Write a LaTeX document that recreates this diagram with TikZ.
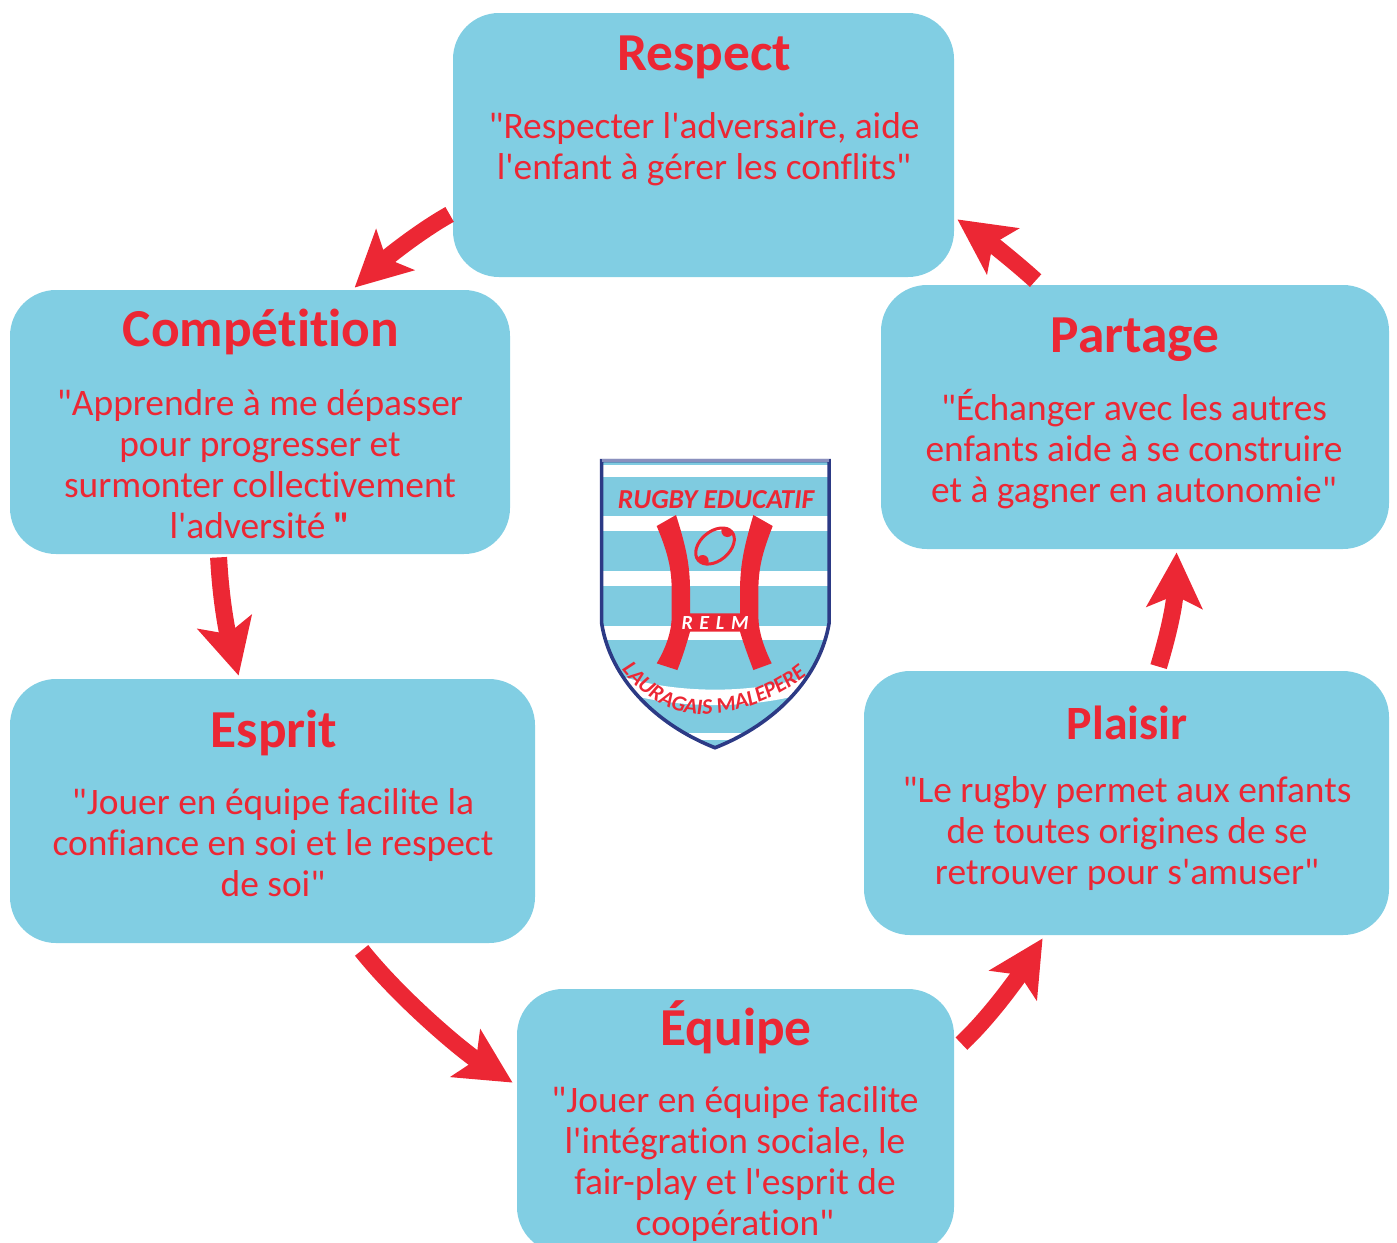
\documentclass[tikz,border=0pt]{standalone}
\usepackage{fontspec}
\usepackage{tikz}
\usetikzlibrary{calc,arrows.meta,decorations.text}
\newfontfamily\boxfont{Carlito}[Ligatures=NoCommon]
\definecolor{boxblue}{HTML}{81CEE3}
\definecolor{textred}{HTML}{EC2734}
\definecolor{shieldblue}{HTML}{7FCBE0}
\definecolor{shieldnavy}{HTML}{2C3A85}
\definecolor{shieldtop}{HTML}{8A90BE}
\tikzset{
  box/.style={fill=boxblue,rounded corners=23pt,inner sep=0pt,minimum height=132pt},
  title/.style={text=textred,font=\boxfont\fontsize{26.7}{31}\selectfont\bfseries,inner sep=0pt},
  body/.style={text=textred,font=\boxfont\fontsize{18.7}{20.5}\selectfont,align=center,inner sep=0pt},
  cyclearrow/.style={draw=textred,line width=8.5pt,-{Stealth[length=27.5pt,width=27.5pt,inset=6pt]}},
}
\begin{document}
\begin{tikzpicture}[x=0.5pt,y=-0.5pt]
  \clip (0,0) rectangle (1397,1242);
  % boxes
  \node[box,minimum width=250.5pt] (respect) at (703.5,145) {};
  \node[box,minimum width=250pt] (competition) at (260,422) {};
  \node[box,minimum width=262.5pt] (esprit) at (272.5,811) {};
  \node[box,minimum width=218.5pt] (equipe) at (735.5,1121) {};
  \node[box,minimum width=262.5pt] (plaisir) at (1126.5,803) {};
  \node[box,minimum width=254pt] (partage) at (1135,417) {};
  % titles
  \node[title] (t1) at (704,57) {Respect};
  \node[title] (t2) at (261,332) {Compétition};
  \node[title] (t3) at (274,733) {Esprit};
  \node[title] (t4) at (736,1027) {Équipe};
  \node[title,font=\boxfont\fontsize{23.9}{28}\selectfont\bfseries] (t5) at (1127,723) {Plaisir};
  \node[title] (t6) at (1135,340) {Partage};
  % texts
  \node[body] (l1) at (704,149) {"Respecter l'adversaire, aide\\l'enfant à gérer les conflits"};
  \node[body] (l2) at (260,464) {"Apprendre à me dépasser\\pour progresser et\\surmonter collectivement\\l'adversité {\bfseries "}};
  \node[body] (l3) at (273,843) {"Jouer en équipe facilite la\\confiance en soi et le respect\\de soi"};
  \node[body] (l4) at (735,1164) {"Jouer en équipe facilite\\l'intégration sociale, le\\fair-play et l'esprit de\\coopération"};
  \node[body] (l5) at (1127,834) {"Le rugby permet aux enfants\\de toutes origines de se\\retrouver pour s'amuser"};
  \node[body] (l6) at (1134,449) {"Échanger avec les autres\\enfants aide à se construire\\et à gagner en autonomie"};
  % arrows
  \coordinate (a1) at ($(respect.south west)+(-3,-63)$);
  \coordinate (a2) at ($(competition.north west)+(345,-2)$);
  \coordinate (b1) at ($(competition.south west)+(209,3)$);
  \coordinate (b2) at ($(esprit.north west)+(229,-3)$);
  \coordinate (c1) at ($(esprit.south west)+(352,7)$);
  \coordinate (c2) at ($(equipe.north west)+(-4,94)$);
  \coordinate (d1) at ($(equipe.north east)+(7,55)$);
  \coordinate (d2) at ($(plaisir.south west)+(179,3)$);
  \coordinate (e1) at ($(plaisir.north west)+(295,-4)$);
  \coordinate (e2) at ($(partage.south west)+(296,3)$);
  \coordinate (f1) at ($(partage.north west)+(155,-4)$);
  \coordinate (f2) at ($(respect.south east)+(3,-58)$);
  \draw[cyclearrow] (a1) .. controls +(-32,18) and +(30,-28) .. (a2);
  \draw[cyclearrow] (b1) .. controls +(2,40) and +(-12,-46) .. (b2);
  \draw[cyclearrow] (c1) .. controls +(40,50) and +(-48,-30) .. (c2);
  \draw[cyclearrow] (d1) .. controls +(30,-28) and +(-22,35) .. (d2);
  \draw[cyclearrow] (e1) .. controls +(12,-40) and +(-2,50) .. (e2);
  \draw[cyclearrow] (f1) .. controls +(-22,-20) and +(30,21) .. (f2);
  % logo
  \begin{scope}[shift={(590,450)},x=0.1667pt,y=-0.1667pt]
    \path[save path=\shieldpath] (35,32) -- (717,32) -- (717,520)
      .. controls (690,680) and (560,820) .. (375,893)
      .. controls (190,820) and (60,680) .. (35,520) -- cycle;
    \begin{scope}
      \clip[use path=\shieldpath];
      \fill[shieldblue] (0,0) rectangle (750,930);
      \fill[white] (0,45) rectangle (750,80);
      \fill[white] (0,198) rectangle (750,243);
      \fill[white] (0,362) rectangle (750,408);
      \fill[white] (0,528) rectangle (750,570);
      \fill[white] (0,690) .. controls (200,790) and (550,790) .. (750,690) -- (750,640) .. controls (550,745) and (200,745) .. (0,640) -- cycle;
      \fill[white] (0,850) rectangle (750,870);
    \end{scope}
    \draw[shieldnavy,line width=1.8pt,use path=\shieldpath];
    \draw[shieldtop,line width=1.8pt] (35,32) -- (717,32);
    \fill[textred] (200,228) -- (258,195) .. controls (285,280) and (300,340) .. (300,420) -- (300,490)
      -- (450,490) -- (450,420) .. controls (450,340) and (465,280) .. (490,195) -- (548,228)
      .. controls (520,300) and (505,350) .. (505,420) -- (505,500) .. controls (505,540) and (520,590) .. (545,640)
      -- (490,660) .. controls (475,620) and (460,580) .. (450,545) -- (300,545)
      .. controls (290,580) and (278,620) .. (262,660) -- (200,640)
      .. controls (230,590) and (245,540) .. (245,500) -- (245,420) .. controls (245,350) and (230,300) .. (200,228) -- cycle;
    \begin{scope}
      \clip[rotate around={40:(375,288)}] (375,288) ellipse (66 and 44);
      \fill[textred] (412,243) circle (18);
      \fill[textred] (338,333) circle (18);
    \end{scope}
    \draw[textred,line width=1.5pt,rotate around={40:(375,288)}] (375,288) ellipse (66 and 44);
    \node[text=textred,font=\boxfont\fontsize{13.7}{16}\selectfont\bfseries\itshape,inner sep=0pt] (t7) at (378,148) {RUGBY EDUCATIF};
    \node[text=white,font=\boxfont\fontsize{10}{11}\selectfont\bfseries\itshape,inner sep=0pt] (t8) at (375,518) {R\,\,E\,\,L\,\,M};
    \path[decorate,decoration={text along path,text align=center,
      text={|\boxfont\fontsize{11}{13}\selectfont\bfseries\itshape\color{textred}|LAURAGAIS MALEPERE}}]
      (95,660) .. controls (200,790) and (300,800) .. (375,790) .. controls (470,780) and (570,740) .. (650,675);
  \end{scope}
\end{tikzpicture}
\end{document}
